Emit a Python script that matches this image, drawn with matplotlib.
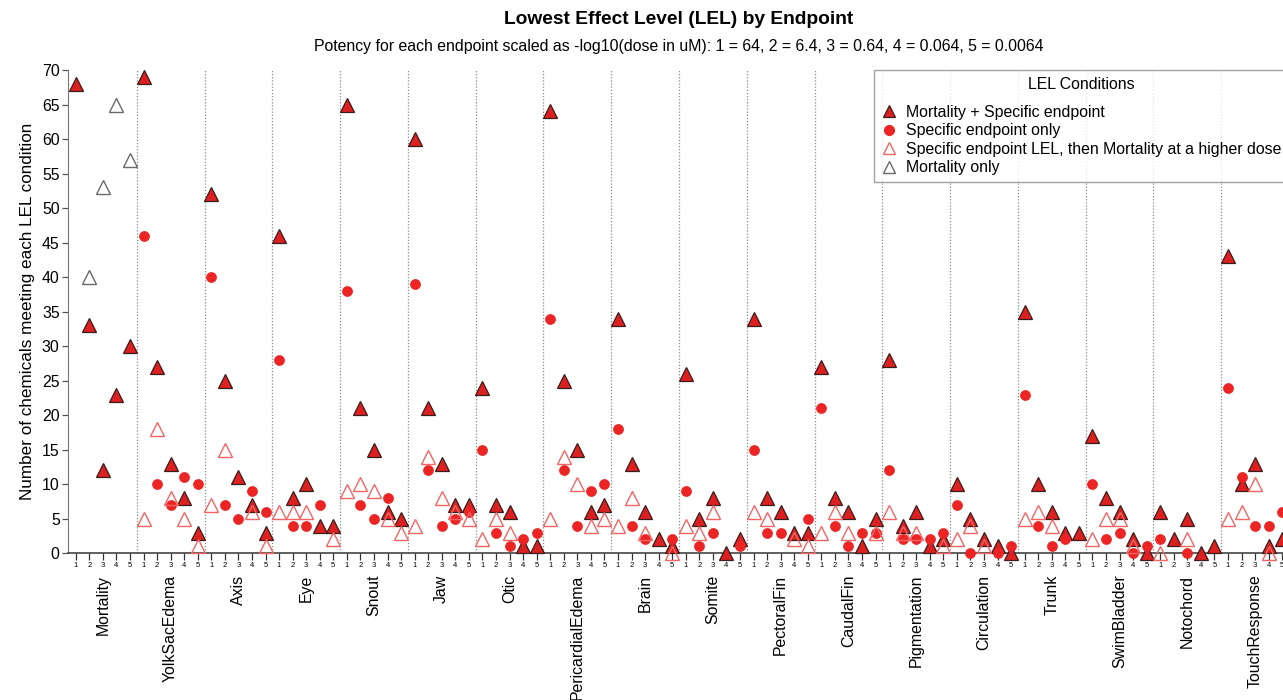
import numpy as np
import matplotlib
matplotlib.use("Agg")
import matplotlib.pyplot as plt
from matplotlib.lines import Line2D

plt.rcParams['font.family'] = ['Liberation Sans', 'DejaVu Sans']

# endpoints, each with potency bins 1..5
endpoints = ["Mortality", "YolkSacEdema", "Axis", "Eye", "Snout", "Jaw", "Otic",
             "PericardialEdema", "Brain", "Somite", "PectoralFin", "CaudalFin",
             "Pigmentation", "Circulation", "Trunk", "SwimBladder", "Notochord",
             "TouchResponse"]
bins = ["1", "2", "3", "4", "5"]

# counts per endpoint and bin (None = no point drawn)
mort_and_specific = [
    [68, 33, 12, 23, 30], [69, 27, 13, 8, 3], [52, 25, 11, 7, 3], [46, 8, 10, 4, 4],
    [65, 21, 15, 6, 5], [60, 21, 13, 7, 7], [24, 7, 6, 1, 1], [64, 25, 15, 6, 7],
    [34, 13, 6, 2, 1], [26, 5, 8, 0, 2], [34, 8, 6, 3, 3], [27, 8, 6, 1, 5],
    [28, 4, 6, 1, 2], [10, 5, 2, 1, 0], [35, 10, 6, 3, 3], [17, 8, 6, 2, 0],
    [6, 2, 5, 0, 1], [43, 10, 13, 1, 2],
]
specific_only = [
    [None] * 5, [46, 10, 7, 11, 10], [40, 7, 5, 9, 6], [28, 4, 4, 7, None],
    [38, 7, 5, 8, None], [39, 12, 4, 5, 6], [15, 3, 1, 2, 3], [34, 12, 4, 9, 10],
    [18, 4, 2, None, 2], [9, 1, 3, None, 1], [15, 3, 3, None, 5], [21, 4, 1, 3, 3],
    [12, 2, 2, 2, 3], [7, 0, None, 0, 1], [23, 4, 1, 2, None], [10, 2, 3, 0, 1],
    [2, None, 0, None, None], [24, 11, 4, 4, 6],
]
specific_then_mort = [
    [None] * 5, [5, 18, 8, 5, 1], [7, 15, None, 6, 1], [6, 6, 6, None, 2],
    [9, 10, 9, 5, 3], [4, 14, 8, 6, 5], [2, 5, 3, None, None], [5, 14, 10, 4, 5],
    [4, 8, 3, None, 0], [4, 3, 6, None, None], [6, 5, None, 2, 1], [3, 6, 3, None, 3],
    [6, 3, 3, None, 1], [2, 4, 1, None, None], [5, 6, 4, None, None], [2, 5, 5, 1, None],
    [0, None, 2, None, None], [5, 6, 10, 0, None],
]
mort_only = [[None, 40, 53, 65, 57]] + [[None] * 5 for _ in range(17)]


def flatten(groups):
    xs, ys = [], []
    for g, vals in enumerate(groups):
        for b, v in enumerate(vals):
            if v is not None:
                xs.append(g * 5 + b + 1)
                ys.append(v)
    return xs, ys


red = '#ec2424'
fs = 11.4
fig = plt.figure(figsize=(12.83, 7.0), dpi=100)
ax = fig.add_axes([68 / 1283, 146.7 / 700, 1222 / 1283, 483.3 / 700])

n = len(endpoints) * 5
for g in range(1, len(endpoints)):
    ax.axvline(g * 5 + 0.5, color='#8a8a8a', ls=(0, (1, 1.5)), lw=0.9, zorder=1)

x, y = flatten(mort_and_specific)
ax.plot(x, y, ls='none', marker='^', ms=9.5, mfc='#dc2020', mec='#3a1c1c', mew=0.9,
        zorder=3, clip_on=False)
x, y = flatten(specific_only)
ax.plot(x, y, ls='none', marker='o', ms=7.2, mfc=red, mec=red, mew=0.5,
        zorder=4, clip_on=False)
x, y = flatten(specific_then_mort)
ax.plot(x, y, ls='none', marker='^', ms=9.5, mfc='none', mec='#f36565', mew=1.0,
        zorder=5, clip_on=False)
x, y = flatten(mort_only)
ax.plot(x, y, ls='none', marker='^', ms=9.5, mfc='none', mec='#6a6a6a', mew=1.0,
        zorder=5, clip_on=False)

ax.set_xlim(0.43, n + 0.57)
ax.set_ylim(0, 70)
ax.set_yticks(np.arange(0, 71, 5))
ax.tick_params(axis='y', labelsize=fs, length=4, width=0.9, color='#555555', pad=2)
ax.set_xticks(np.arange(1, n + 1))
ax.set_xticklabels(bins * len(endpoints))
ax.tick_params(axis='x', labelsize=5.5, length=5, width=0.9, color='#333333', pad=1.5)

for side in ['top', 'right']:
    ax.spines[side].set_visible(False)
ax.spines['left'].set_color('#777777')
ax.spines['bottom'].set_color('#444444')
ax.spines['bottom'].set_linewidth(1.2)

for g, name in enumerate(endpoints):
    ax.text(g * 5 + 3, -0.044, name, transform=ax.get_xaxis_transform(),
            rotation=90, ha='center', va='top', fontsize=fs)

ax.set_ylabel("Number of chemicals meeting each LEL condition", fontsize=12.3, labelpad=5)

fig.text(679 / 1283, 1 - 20 / 700, "Lowest Effect Level (LEL) by Endpoint",
         ha='center', va='center', fontsize=13.8, fontweight='bold')
fig.text(679 / 1283, 1 - 47 / 700,
         "Potency for each endpoint scaled as -log10(dose in uM): 1 = 64, 2 = 6.4, 3 = 0.64, 4 = 0.064, 5 = 0.0064",
         ha='center', va='center', fontsize=fs)

handles = [
    Line2D([], [], ls='none', marker='^', ms=9, mfc='#dc2020', mec='#3a1c1c', mew=0.9),
    Line2D([], [], ls='none', marker='o', ms=7, mfc=red, mec=red),
    Line2D([], [], ls='none', marker='^', ms=9, mfc='none', mec='#f36565', mew=1.0),
    Line2D([], [], ls='none', marker='^', ms=9, mfc='none', mec='#6a6a6a', mew=1.0),
]
labels = ["Mortality + Specific endpoint", "Specific endpoint only",
          "Specific endpoint LEL, then Mortality at a higher dose", "Mortality only"]
leg = fig.legend(handles, labels, title="LEL Conditions", loc='upper left',
                 bbox_to_anchor=(874 / 1283, 1 - 70 / 700), fontsize=fs,
                 title_fontsize=fs, frameon=True, fancybox=False, edgecolor='#8c8c8c',
                 handlelength=1.0, handletextpad=0.6, labelspacing=0.22, borderpad=0.45,
                 borderaxespad=0)
leg.get_frame().set_linewidth(1.0)
# a bit more room between the legend title and its entries
leg._legend_box.sep = 9

fig.savefig("out.png", dpi=100)
